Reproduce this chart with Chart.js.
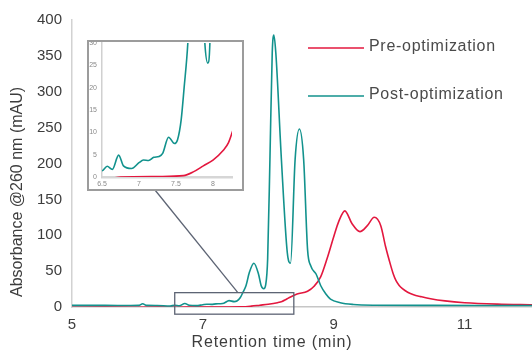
<!DOCTYPE html>
<html>
<head>
<meta charset="utf-8">
<script src="https://cdn.jsdelivr.net/npm/chart.js@4.4.1/dist/chart.umd.min.js"></script>
<style>
  html, body { margin:0; padding:0; background:#fff; }
  #wrap { position:relative; width:532px; height:350px; overflow:hidden; }
  #main { position:absolute; left:0; top:0; }
  #inset { position:absolute; left:87px; top:40px; width:157px; height:151px; box-sizing:border-box;
           border:2px solid #9c9c9c; background:#fff; overflow:hidden; }
  #zoom { position:absolute; left:0; top:-10px; }
</style>
</head>
<body>
<div id="wrap">
  <canvas id="main" width="532" height="350"></canvas>
  <div id="inset"><canvas id="zoom" width="153" height="157"></canvas></div>
</div>
<script>
// chromatograms, retention time (min) vs absorbance (mAU)
const preTime = [5.0, 6.0, 6.6, 6.75, 7.29, 7.6, 7.74, 7.87, 8.0, 8.14, 8.21, 8.27, 8.34, 8.44, 8.6, 8.7, 8.8, 8.9, 9.0, 9.08,
                 9.17, 9.28, 9.4, 9.51, 9.62, 9.72, 9.79, 9.87, 9.91, 9.95, 10.0, 10.05, 10.13, 10.22, 10.33, 10.48,
                 10.7, 11.0, 11.5, 12.03];
const preAbs  = [-0.4, -0.4, -0.3, 0, 0.1, 0.3, 1.2, 2.5, 3.8, 6, 7.7, 10.5, 14, 18, 22, 29, 42, 68, 98, 120,
                 134, 116, 105, 113, 125, 113, 85, 58, 46, 37, 30, 25.5, 20.5, 17, 14.5, 11.5,
                 8.5, 6, 4, 3];

const postTime = [5.0, 5.5, 5.9, 6.02, 6.08, 6.14, 6.3, 6.5, 6.57, 6.64, 6.725, 6.79, 6.9, 7.0, 7.06, 7.13, 7.2, 7.27, 7.32, 7.4,
                  7.48, 7.52, 7.57, 7.61, 7.66, 7.71, 7.78, 7.85, 7.89, 7.93, 7.96, 7.99, 8.025, 8.06, 8.085, 8.115, 8.2, 8.29,
                  8.34, 8.41, 8.475, 8.54, 8.6, 8.65, 8.73, 8.8, 8.88, 8.95, 9.1, 9.3, 9.6, 10.5, 12.03];
const postAbs  = [2.2, 2.2, 2.1, 2.2, 4.5, 2.2, 2.0, 1.4, 2.4, 1.7, 4.9, 2.5, 1.9, 3.2, 3.8, 3.7, 4.4, 4.6, 5.3, 8.9,
                  7.5, 8.3, 12.8, 20, 30, 48, 61, 46, 30, 25.5, 31, 67, 206, 354, 379, 354, 206, 76,
                  61, 206, 248, 206, 80, 57, 46, 30, 18, 11, 6, 3.5, 2.5, 2.2, 2];

const seriesNames = ["Pre-optimization", "Post-optimization"];

const xTicks = [5, 7, 9, 11];
const yTicks = [0, 50, 100, 150, 200, 250, 300, 350, 400];
const insetXTicks = [6.5, 7, 7.5, 8];
const insetYTicks = [0, 5, 10, 15, 20, 25, 30];

// zoomed window shown in the inset
const zoomX = [6.57, 8.39];
const zoomY = [-10, 20];

const RED = "#e3173e";
const TEAL = "#12928d";
const FONT = '"Liberation Sans", Arial, sans-serif';
const INK = "#3d3d3d";

const toPts = (t, v) => t.map((x, i) => ({ x, y: v[i] }));
const setTicks = arr => axis => { axis.ticks = arr.map(value => ({ value })); };
const plain = v => String(v);

function lineSet(label, t, v, color, order){
  return { label, data: toPts(t, v), borderColor: color, borderWidth: 1.6, pointRadius: 0,
           cubicInterpolationMode: "monotone", fill: false, order };
}

// legend, axis titles, zoom window + connector
const decor = {
  id: "decor",
  afterDatasetsDraw(chart){
    const { ctx, scales: { x, y } } = chart;
    ctx.save();

    // zoom window
    const rx1 = x.getPixelForValue(zoomX[0]), rx2 = x.getPixelForValue(zoomX[1]);
    const ry1 = y.getPixelForValue(zoomY[1]), ry2 = y.getPixelForValue(zoomY[0]);
    ctx.strokeStyle = "#5d6474";
    ctx.lineWidth = 1.3;
    ctx.strokeRect(rx1, ry1, rx2 - rx1, ry2 - ry1);

    // connector to the inset box
    ctx.beginPath();
    ctx.moveTo(155, 190);
    ctx.lineTo(rx1 + (rx2 - rx1) * 0.53, ry1);
    ctx.stroke();

    // legend
    chart.data.datasets.forEach((ds, i) => {
      const ly = 48 + i * 48;
      ctx.strokeStyle = ds.borderColor;
      ctx.lineWidth = 1.6;
      ctx.beginPath();
      ctx.moveTo(308, ly);
      ctx.lineTo(364, ly);
      ctx.stroke();
      ctx.fillStyle = "#4a4a4a";
      ctx.font = "16px " + FONT;
      ctx.letterSpacing = "0.7px";
      ctx.textAlign = "left";
      ctx.textBaseline = "middle";
      ctx.fillText(ds.label, 369, ly - 1);
    });

    // axis titles
    ctx.fillStyle = INK;
    ctx.font = "16px " + FONT;
    ctx.letterSpacing = "0.85px";
    ctx.textAlign = "center";
    ctx.textBaseline = "middle";
    ctx.fillText("Retention time (min)", 272, 343);

    ctx.letterSpacing = "0px";
    ctx.translate(18, 297);
    ctx.rotate(-Math.PI / 2);
    ctx.textAlign = "left";
    ctx.fillText("Absorbance @260 nm (mAU)", 0, 0);
    ctx.restore();
  }
};

new Chart(document.getElementById("main"), {
  type: "line",
  data: { datasets: [
    lineSet(seriesNames[0], preTime, preAbs, RED, 1),
    lineSet(seriesNames[1], postTime, postAbs, TEAL, 0)
  ]},
  options: {
    responsive: false, animation: false, devicePixelRatio: 1,
    layout: { padding: { top: 20, right: 0, bottom: 0, left: 0 } },
    plugins: { legend: { display: false }, tooltip: { enabled: false } },
    scales: {
      x: {
        type: "linear", min: 5, max: 12.03,
        afterBuildTicks: setTicks(xTicks),
        afterFit: s => { s.height = 43; },
        grid: { display: false, drawTicks: false },
        border: { display: true, color: "#c6c6c6", width: 1.5 },
        ticks: { color: INK, font: { family: FONT, size: 15 }, padding: 9, maxRotation: 0, callback: plain }
      },
      y: {
        type: "linear", min: 0, max: 400,
        afterBuildTicks: setTicks(yTicks),
        afterFit: s => { s.width = 72; },
        grid: { display: false, drawTicks: false },
        border: { display: true, color: "#d2d2d2", width: 1.5 },
        ticks: { color: INK, font: { family: FONT, size: 15 }, padding: 10, callback: plain }
      }
    }
  },
  plugins: [decor]
});

// inset: close-up of the early region
new Chart(document.getElementById("zoom"), {
  type: "line",
  data: { datasets: [
    lineSet(seriesNames[0], preTime, preAbs, RED, 1),
    lineSet(seriesNames[1], postTime, postAbs, TEAL, 0)
  ]},
  options: {
    responsive: false, animation: false, devicePixelRatio: 1,
    layout: { padding: { top: 11, right: 10, bottom: 0, left: 0 } },
    plugins: { legend: { display: false }, tooltip: { enabled: false } },
    scales: {
      x: {
        type: "linear", min: 6.5, max: 8.257,
        afterBuildTicks: setTicks(insetXTicks),
        afterFit: s => { s.height = 12; },
        grid: { display: false, drawTicks: false },
        border: { display: true, color: "#d6d6d6", width: 2.5 },
        ticks: { color: "#8a8a8a", font: { family: FONT, size: 7 }, padding: 3, maxRotation: 0, callback: plain }
      },
      y: {
        type: "linear", min: 0, max: 30,
        afterBuildTicks: setTicks(insetYTicks),
        afterFit: s => { s.width = 13; },
        grid: { display: false, drawTicks: false },
        border: { display: true, color: "#d0d0d0", width: 1.5 },
        ticks: { color: "#8a8a8a", font: { family: FONT, size: 7 }, padding: 5, callback: plain }
      }
    }
  }
});
</script>
</body>
</html>
